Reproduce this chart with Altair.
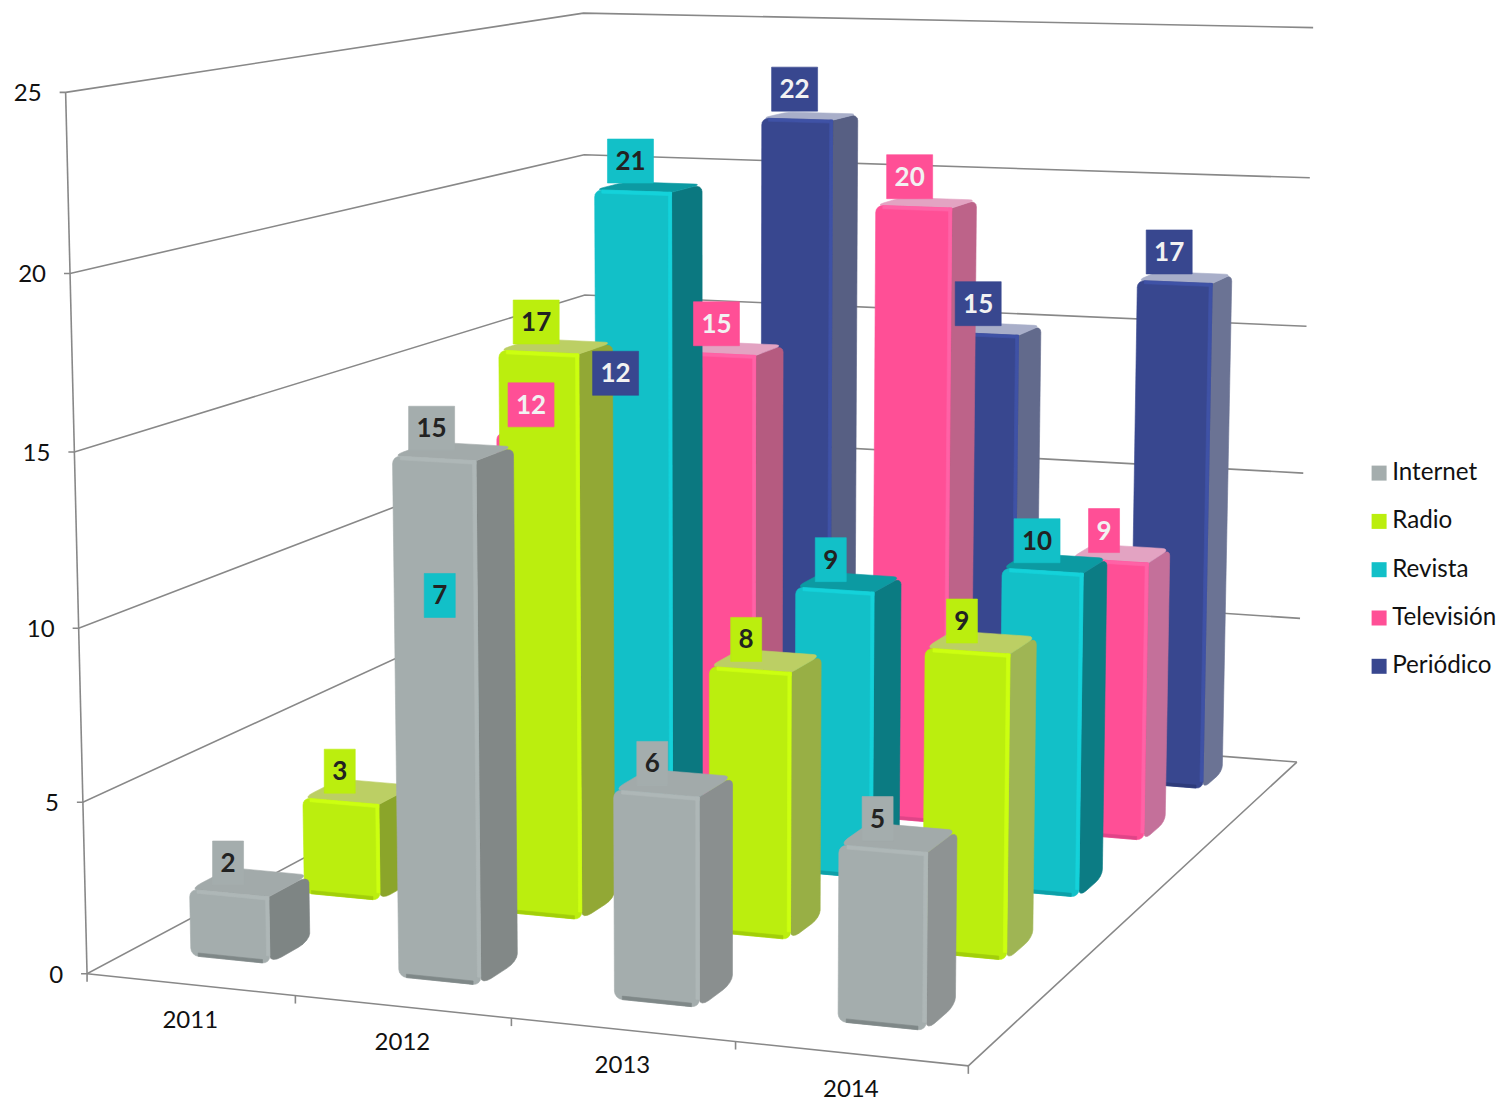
import numpy as np
import altair as alt

years = ["2011", "2012", "2013", "2014"]
series = ["Internet", "Radio", "Revista", "Televisión", "Periódico"]
internet = [2, 15, 6, 5]
radio = [3, 17, 8, 9]
revista = [7, 21, 9, 10]
television = [12, 15, 20, 9]
periodico = [12, 22, 15, 17]
values = [internet, radio, revista, television, periodico]
axis_ticks = [0, 5, 10, 15, 20, 25]

main = ["#a4adad", "#bbee0e", "#12c0c8", "#ff4f96", "#38478f"]
hi = ["#aeb7b7", "#ccff10", "#14d2da", "#ff62a6", "#3f52a6"]
lo = ["#7f8888", "#a2cf0a", "#0ea0a8", "#e04488", "#2e3b7a"]
top = ["#a2aaaa", "#bccf64", "#0c9aa2", "#e3a3c2", "#a8aec9"]
side = [["#7e8584", "#828887", "#8a8f8f", "#8e9393"],
        ["#8ba52a", "#92a835", "#98af45", "#9fb554"],
        ["#0b7a80", "#0b7880", "#0b7b82", "#0c7c84"],
        ["#b55b80", "#b55b80", "#bd6389", "#c4709a"],
        ["#575f83", "#575f83", "#626a8c", "#6b7394"]]
label_text = ["#222222", "#222222", "#222222", "#f2f2f2", "#f2f2f2"]

# camera: calibrated from the box corners of the 3-D frame (x, depth, value share) -> page pixel
frame = [((0, 0, 0), (87, 975)), ((1, 0, 0), (968, 1066)), ((1, 1, 0), (1296, 762)),
         ((0, 0, 1), (65, 93)), ((1, 1, 1), (1313, 28)),
         ((0, 1, 1), (583, 13)), ((0, 0, .2), (83, 802)), ((0, 0, .4), (79, 627)),
         ((0, 0, .6), (75, 452)), ((0, 0, .8), (70, 273)),
         ((1, 1, .2), (1300, 618)), ((1, 1, .4), (1304, 473)),
         ((1, 1, .6), (1307, 326)), ((1, 1, .8), (1310, 178)),
         ((0, 1, .6), (585, 295)), ((0, 1, .8), (584, 155))]
w_pts = np.ones(len(frame))
Pn = None
for _ in range(12):
    A = []
    for wt, ((X, Y, Z), (u, v)) in zip(w_pts, frame):
        u, v = u / 1000, v / 1000
        A.append([c * wt for c in [X, Y, Z, 1, 0, 0, 0, 0, -u * X, -u * Y, -u * Z, -u]])
        A.append([c * wt for c in [0, 0, 0, 0, X, Y, Z, 1, -v * X, -v * Y, -v * Z, -v]])
    Pn = np.linalg.svd(np.array(A, float))[2][-1].reshape(3, 4)
    w_pts = np.array([1 / abs(Pn[2] @ np.array([*f[0], 1.0])) for f in frame])
P = np.diag([1000.0, 1000.0, 1.0]) @ Pn

MARGIN = 8


def proj(x, d, z):
    p = P @ np.array([x, d, z, 1.0])
    return float(p[0] / p[2]), float(p[1] / p[2])


def page(pt):
    return [round(pt[0] - MARGIN, 2), round(pt[1] - MARGIN, 2)]


def rounded(a0, a1, b0, b1, ra, rb, corners):
    # corners: a0b0, a1b0, a1b1, a0b1 flags
    out = []
    spec = [(a0, b0, 1, 1, 180, corners[0]), (a1, b0, -1, 1, 270, corners[1]),
            (a1, b1, -1, -1, 0, corners[2]), (a0, b1, 1, -1, 90, corners[3])]
    for a, b, sa, sb, start, on in spec:
        if not on:
            out.append((a, b))
            continue
        ca, cb = a + sa * ra, b + sb * rb
        for t in np.radians(np.linspace(start, start + 90, 5)):
            out.append((ca + ra * np.cos(t), cb + rb * np.sin(t)))
    return out


features = []
colors = {}


def add(pts, key, color):
    ring = [page(p) for p in pts]
    ring.append(ring[0])
    colors[key] = color
    features.append({"type": "Feature",
                     "geometry": {"type": "Polygon", "coordinates": [ring]},
                     "properties": {"key": key}})


U0, U1 = 0.285, 0.672
SPREAD = 0.007
D0, D1 = 0.405, 0.755
RX, RD, RZ = 0.009, 0.02, 0.009
BX, BZ = 0.004, 0.004
TOP_INSET = 0.005
BASE = -0.004

for name, color in zip(series, main):
    colors[name] = color

labels = []
for j in range(4, -1, -1):
    for i in range(4):
        v = values[j][i]
        s = series[j]
        shift = SPREAD * (i - 3)
        x0, x1 = (i + U0 + shift) / 4, (i + U1 + shift) / 4
        d0, d1 = (j + D0) / 5, (j + D1) / 5
        z = v / 25 - TOP_INSET
        # side face
        add([proj(x1, a, b) for a, b in rounded(d0, d1, BASE, z, RD, RZ, (1, 1, 1, 0))],
            f"{s} side {i}", side[j][i])
        # top face
        add([proj(a, b, z) for a, b in rounded(x0, x1, d0, d1, RX, RD, (1, 0, 1, 1))],
            f"{s} top", top[j])
        # front face
        add([proj(a, d0, b) for a, b in rounded(x0, x1, BASE, z, RX, RZ, (1, 1, 0, 1))], s, main[j])
        # bevels
        add([proj(x0 + RX, d0, z - BZ), proj(x1, d0, z - BZ), proj(x1, d0, z), proj(x0 + RX, d0, z)],
            f"{s} hi", hi[j])
        add([proj(x1 - BX, d0, BASE + RZ), proj(x1, d0, BASE + RZ), proj(x1, d0, z), proj(x1 - BX, d0, z)],
            f"{s} hi", hi[j])
        add([proj(x0 + RX, d0, BASE), proj(x1 - RX, d0, BASE), proj(x1 - RX, d0, BASE + BZ), proj(x0 + RX, d0, BASE + BZ)],
            f"{s} lo", lo[j])
        cx, cy = proj((x0 + x1) / 2, d0, z)
        labels.append((j, str(v), cx - 1 - 1.5 * i, cy - 30))

for j, t, cx, cy in labels:
    w = 23 if len(t) == 2 else 15.5
    add([(cx - w, cy - 22), (cx + w, cy - 22), (cx + w, cy + 22), (cx - w, cy + 22)], series[j], main[j])

keys = list(colors)
key_scale = alt.Scale(domain=keys, range=[colors[k] for k in keys])

# frame lines
grid = []


def line(pts):
    grid.append({"type": "Feature",
                 "geometry": {"type": "LineString", "coordinates": [page(p) for p in pts]},
                 "properties": {}})


for t in axis_ticks:
    z = t / 25
    a = proj(0, 0, z)
    line([(a[0] - 6, a[1]), a, proj(0, 1, z), proj(1, 1, z)])
line([proj(0, 0, 0), proj(0, 0, 1)])
line([proj(0, 0, 0), proj(1, 0, 0), proj(1, 1, 0)])
for i in range(5):
    a = proj(i / 4, 0, 0)
    line([a, (a[0], a[1] + 8)])

identity = dict(type="identity", scale=1, translate=[0, 0])

grid_layer = alt.Chart(alt.InlineData(values={"type": "FeatureCollection", "features": grid},
                                      format=alt.DataFormat(property="features", type="json"))
                       ).mark_geoshape(filled=False, stroke="#888888", strokeWidth=1.6).project(**identity)

bars_layer = alt.Chart(alt.InlineData(values={"type": "FeatureCollection", "features": features},
                                      format=alt.DataFormat(property="features", type="json"))
                       ).mark_geoshape(strokeWidth=0.6).encode(
    color=alt.Color("properties.key:N", scale=key_scale,
                    legend=alt.Legend(values=series, title=None, orient="none", legendX=1367 - MARGIN,
                                      legendY=461 - MARGIN, symbolType="square", symbolSize=225,
                                      labelFont="Lato", labelFontSize=24.2, labelColor="#111111",
                                      labelLimit=200, rowPadding=23.3, padding=0, labelOffset=1,
                                      symbolStrokeWidth=0)),
    stroke=alt.Stroke("properties.key:N", scale=key_scale, legend=None),
).project(**identity)

value_rows = [{"lon": page(proj(0, 0, t / 25))[0] - 24, "lat": page(proj(0, 0, t / 25))[1] + 2, "t": str(t)}
              for t in axis_ticks]
year_rows = []
for i, y in enumerate(years):
    c = page(proj((i + 0.5) / 4, 0, 0))
    year_rows.append({"lon": c[0], "lat": c[1] + 36.5, "t": y})
label_rows = [{"lon": cx - MARGIN, "lat": cy - MARGIN + 1, "t": t, "c": label_text[j]} for j, t, cx, cy in labels]

value_text = alt.Chart(alt.Data(values=value_rows)).mark_text(
    font="Lato", fontSize=24, color="#111111", align="right", baseline="middle").encode(
    longitude="lon:Q", latitude="lat:Q", text="t:N").project(**identity)
year_text = alt.Chart(alt.Data(values=year_rows)).mark_text(
    font="Lato", fontSize=24, color="#111111", align="center", baseline="middle").encode(
    longitude="lon:Q", latitude="lat:Q", text="t:N").project(**identity)
label_layer = alt.Chart(alt.Data(values=label_rows)).mark_text(
    font="Lato", fontSize=26, fontWeight="bold", align="center", baseline="middle").encode(
    longitude="lon:Q", latitude="lat:Q", text="t:N", color=alt.Color("c:N", scale=None)).project(**identity)

chart = alt.layer(grid_layer, bars_layer, value_text, year_text, label_layer).resolve_scale(color="independent").properties(
    width=1489, height=1093, padding=0, autosize=alt.AutoSizeParams(type="none"),
    background="white").configure_view(stroke=None)

chart.save("out.html", embed_options={"renderer": "svg", "actions": False})
